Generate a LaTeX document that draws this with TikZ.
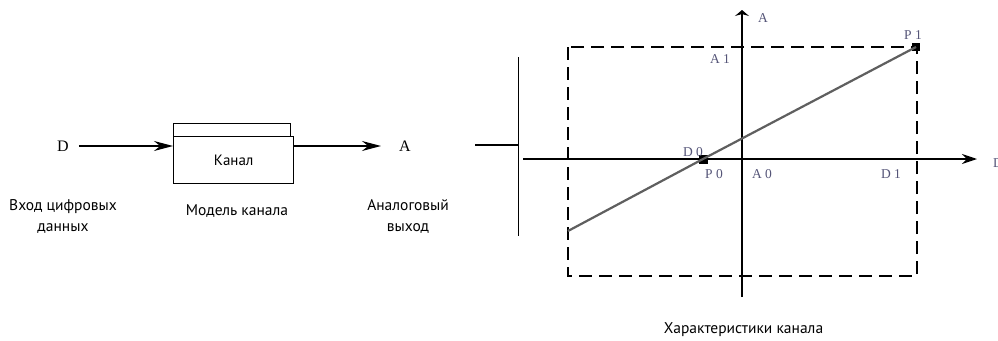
\documentclass[tikz,border=0pt]{standalone}
\usepackage{fontspec}
\setmainfont{Liberation Serif}
\newfontfamily\ruf{PT Sans}
\usetikzlibrary{arrows.meta}
\definecolor{lbl}{RGB}{85,85,120}
\definecolor{gline}{RGB}{95,95,95}
\definecolor{thin}{RGB}{175,175,175}
\begin{document}
\begin{tikzpicture}[x=1pt,y=-1pt,
  ru/.style={font=\ruf\fontsize{15.5}{21}\selectfont, align=center, inner sep=0pt, anchor=base},
  ser/.style={font=\fontsize{16}{18}\selectfont, inner sep=0pt},
  small/.style={font=\fontsize{13.5}{14}\selectfont, text=lbl, inner sep=0pt},
  arr/.style={line width=1.4pt, -{Stealth[length=19pt,width=10pt]}},
  box/.style={draw, line width=1.4pt, fill=white, inner sep=0pt},
  ax/.style={line width=1.9pt},
  dsh/.style={line width=2.3pt, dash pattern=on 13pt off 7pt},
  mk/.style={fill=black, inner sep=0pt, minimum size=9pt}]
\useasboundingbox (0,0) rectangle (998,340);

% left block diagram
\node[ser] (D) at (63,146) {D};
\node[box, minimum width=117pt, minimum height=13pt, anchor=north west] (back) at (173,123) {};
\node[box, minimum width=120pt, minimum height=47pt, anchor=north west, font=\ruf\fontsize{15}{17}\selectfont] (chan) at (173,136) {Канал};
\node[ser] (A) at (405,146) {A};
\draw[arr] ([xshift=10pt]D.east) -- (D -| chan.west);
\coordinate (tipA) at (381,146);
\draw[arr] (D -| chan.east) -- (tipA);

\node[ru] (in) at (63,231.5) {Вход цифровых\\данных};
\node[ru] (model) at (237,215) {Модель канала};
\node[ru] (out) at (408,231.5) {Аналоговый\\выход};

% separator
\coordinate (sepT) at (518,57);
\coordinate (sepB) at (518,236);
\coordinate (stubL) at (475,145);
\draw[thin, line width=0.4pt] (sepT) -- (sepB);
\draw[line width=1.4pt] (stubL) -- (stubL -| sepT);

% characteristic plot
\coordinate (O) at (742,159);
\coordinate (ytop) at (742,10);
\coordinate (ybot) at (742,297);
\coordinate (xl) at (523,159);
\coordinate (xr) at (977,159);
\draw[ax, -{Stealth[length=6pt,width=14pt]}] (ybot) -- (ytop);
\draw[ax, -{Stealth[length=15pt,width=10pt]}] (xl) -- (xr);
\coordinate (RTL) at (568,47);
\coordinate (RBR) at (917,276);
\draw[dsh] (RTL) rectangle (RBR);
\coordinate (Lstart) at (568,231);
\node[mk, minimum size=8pt] (P1) at (916,47) {};
\node[mk] (P0) at (703,159) {};
\draw[gline, line width=2.2pt] (Lstart) -- (P0.center) -- (P1.center);

\node[small] (Alab) at (763,18) {A};
\node[small] (A1) at (720,59) {A 1};
\node[small] (P1l) at (913,35) {P 1};
\node[small] (D0) at (693,152) {D 0};
\node[small] (P0l) at (714,174) {P 0};
\node[small] (A0) at (762,174) {A 0};
\node[small] (D1) at (891,174) {D 1};
\node[small, anchor=west] (Dax) at (993,163) {D};

\node[ru] (title) at (743.5,333) {Характеристики канала};
\end{tikzpicture}
\end{document}
